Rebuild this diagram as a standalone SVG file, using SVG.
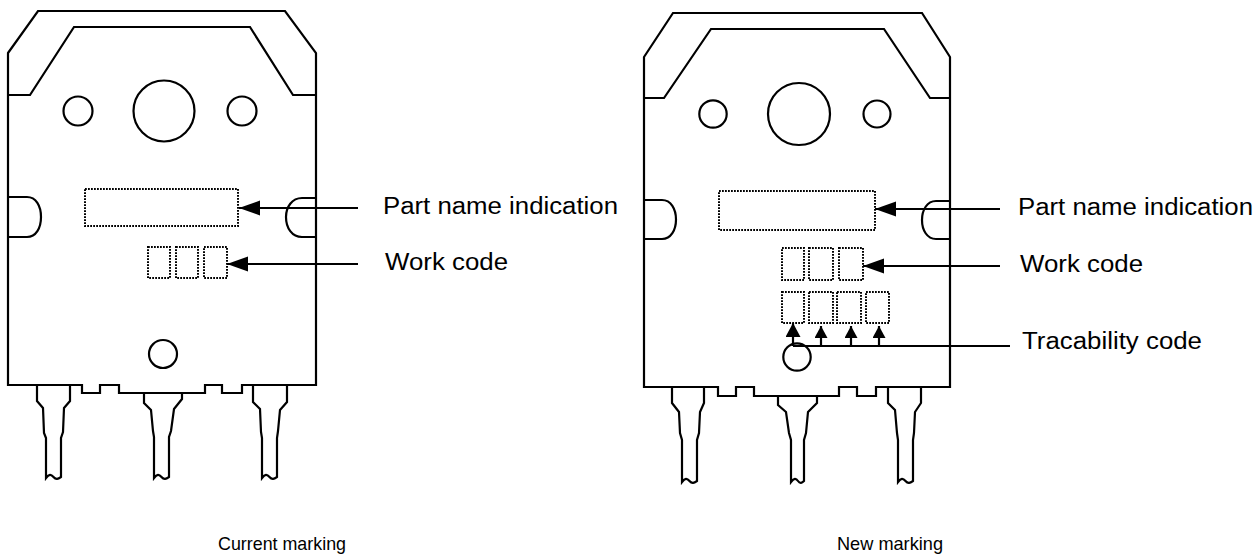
<svg xmlns="http://www.w3.org/2000/svg" width="1258" height="554" viewBox="0 0 1258 554">
<style>
.o{fill:none;stroke:#000;stroke-width:2.2;stroke-linejoin:miter}
.c{fill:#fff;stroke:#000;stroke-width:2.2}
.d{fill:none;stroke:#000;stroke-width:2;stroke-dasharray:1.8 1.2}
.l{fill:none;stroke:#000;stroke-width:2.2}
.t{font-family:"Liberation Sans",Arial,sans-serif;font-size:23px;fill:#000}
.cap{font-family:"Liberation Sans",Arial,sans-serif;font-size:19px;fill:#000}
</style>
<defs>
<marker id="ah" markerUnits="userSpaceOnUse" markerWidth="23" markerHeight="16" refX="21" refY="7.5" orient="auto">
<path d="M0,0 L21,7.5 L0,15 Z" fill="#000"/>
</marker>
<marker id="as" markerUnits="userSpaceOnUse" markerWidth="14" markerHeight="14" refX="12" refY="6.5" orient="auto">
<path d="M0,0 L12,6.5 L0,13 Z" fill="#000"/>
</marker>
<marker id="am" markerUnits="userSpaceOnUse" markerWidth="16" markerHeight="16" refX="14" refY="7.5" orient="auto">
<path d="M0,0 L14,7.5 L0,15 Z" fill="#000"/>
</marker>
</defs>
<rect width="1258" height="554" fill="#fff"/>

<g id="pkg-current">
<path class="o" d="M8,53 L38,11 L285,11 L316,53 L316,385 L242,385 L242,393 L222,393 L222,385 L205,385 L205,393 L119,393 L119,385 L100,385 L100,393 L82,393 L82,385 L8,385 Z"/>
<path class="o" d="M8,95 L30,95 L74,27 L250,27 L293,95 L316,95"/>
<circle class="c" cx="78" cy="111" r="14.5"/>
<circle class="c" cx="164" cy="111" r="30.5"/>
<circle class="c" cx="242" cy="111" r="14.5"/>
<path class="o" d="M8,197 L27,197 C36,197 41,206 41,217 C41,228 36,237 27,237 L8,237"/>
<path class="o" d="M316,198 L302,198 C292,198 286,207 286,217 C286,228 292,237 302,237 L316,237"/>
<rect class="d" x="85" y="189" width="153" height="37"/>
<rect class="d" x="148" y="247" width="22" height="31"/>
<rect class="d" x="176" y="247" width="22" height="31"/>
<rect class="d" x="204" y="247" width="23" height="31"/>
<circle class="c" cx="163" cy="354" r="14"/>
<path class="o" d="M37,385 L37,401 L43,408 L44,433 L46,438 L46,478 C49,474 51,474 53.5,477 C56,480 58,479 61,477 L61,438 L63,432 L64,408 L70,401 L70,385"/>
<path class="o" d="M144,393 L144,403 L151,410 L153,431 L154,437 L154,478 C157,474 159,474 161.5,477 C164,480 166,479 169,477 L169,437 L171,431 L174,409 L182,399 L182,393"/>
<path class="o" d="M253,385 L253,402 L260,409 L261,432 L262,438 L262,478 C265,474 267,474 269.5,477 C272,480 274,479 277,477 L277,438 L278,431 L280,410 L287,402 L287,385"/>
</g>

<g id="pkg-new">
<path class="o" d="M644,57 L673,13 L922,13 L950,57 L950,387 L876,387 L876,396 L857,396 L857,387 L839,387 L839,396 L754,396 L754,387 L736,387 L736,396 L718,396 L718,387 L644,387 Z"/>
<path class="o" d="M644,98 L664,98 L711,29 L884,29 L930,98 L950,98"/>
<circle class="c" cx="713" cy="114" r="13.7"/>
<circle class="c" cx="799" cy="114" r="31"/>
<circle class="c" cx="877" cy="114" r="13.5"/>
<path class="o" d="M644,200 L662,200 C671,200 676,209 676,219.5 C676,230 671,239 662,239 L644,239"/>
<path class="o" d="M950,201 L936,201 C927,201 922,210 922,220 C922,230 927,239 936,239 L950,239"/>
<rect class="d" x="719" y="191" width="156" height="39"/>
<rect class="d" x="782" y="248" width="22" height="32"/>
<rect class="d" x="809" y="248" width="24" height="32"/>
<rect class="d" x="839" y="248" width="24" height="32"/>
<rect class="d" x="782" y="292" width="22" height="31"/>
<rect class="d" x="809" y="292" width="24" height="31"/>
<rect class="d" x="837" y="292" width="24" height="31"/>
<rect class="d" x="866" y="292" width="23" height="31"/>
<circle class="c" cx="797" cy="357" r="13.7"/>
<path class="o" d="M672,387 L672,403 L679,412 L680,433 L682,440 L682,482 C685,478 687,478 689.5,481 C692,484 694,483 697,481 L697,440 L699,433 L700,412 L704,403 L704,387"/>
<path class="o" d="M778,396 L778,405 L786,412 L789,433 L791,440 L791,482 C794,478 796,478 798,481 C800,484 802,483 804,481 L804,440 L806,433 L808,412 L817,403 L817,396"/>
<path class="o" d="M888,387 L888,403 L895,410 L897,433 L898,440 L898,482 C901,478 903,478 905.5,481 C908,484 910,483 913,481 L913,440 L914,433 L915,412 L921,403 L921,387"/>
</g>

<g id="connectors">
<line class="l" x1="358" y1="208" x2="239" y2="208" marker-end="url(#ah)"/>
<line class="l" x1="358" y1="264" x2="227" y2="264" marker-end="url(#ah)"/>
<line class="l" x1="1000" y1="209" x2="875" y2="209" marker-end="url(#ah)"/>
<line class="l" x1="1000" y1="266" x2="863" y2="266" marker-end="url(#ah)"/>
<line class="l" x1="1010" y1="346" x2="793" y2="346"/>
<line class="l" x1="793" y1="346" x2="793" y2="323" marker-end="url(#am)"/>
<line class="l" x1="821" y1="346" x2="821" y2="326" marker-end="url(#as)"/>
<line class="l" x1="851" y1="346" x2="851" y2="326" marker-end="url(#as)"/>
<line class="l" x1="879" y1="346" x2="879" y2="326" marker-end="url(#as)"/>
</g>

<g id="labels">
<text class="t" x="383" y="214" textLength="235" lengthAdjust="spacingAndGlyphs">Part name indication</text>
<text class="t" x="385" y="270" textLength="123" lengthAdjust="spacingAndGlyphs">Work code</text>
<text class="t" x="1018" y="215" textLength="235" lengthAdjust="spacingAndGlyphs">Part name indication</text>
<text class="t" x="1020" y="272" textLength="123" lengthAdjust="spacingAndGlyphs">Work code</text>
<text class="t" x="1022" y="349" textLength="180" lengthAdjust="spacingAndGlyphs">Tracability code</text>
<text class="cap" x="218" y="550" textLength="128" lengthAdjust="spacingAndGlyphs">Current marking</text>
<text class="cap" x="837" y="550" textLength="106" lengthAdjust="spacingAndGlyphs">New marking</text>
</g>
</svg>
